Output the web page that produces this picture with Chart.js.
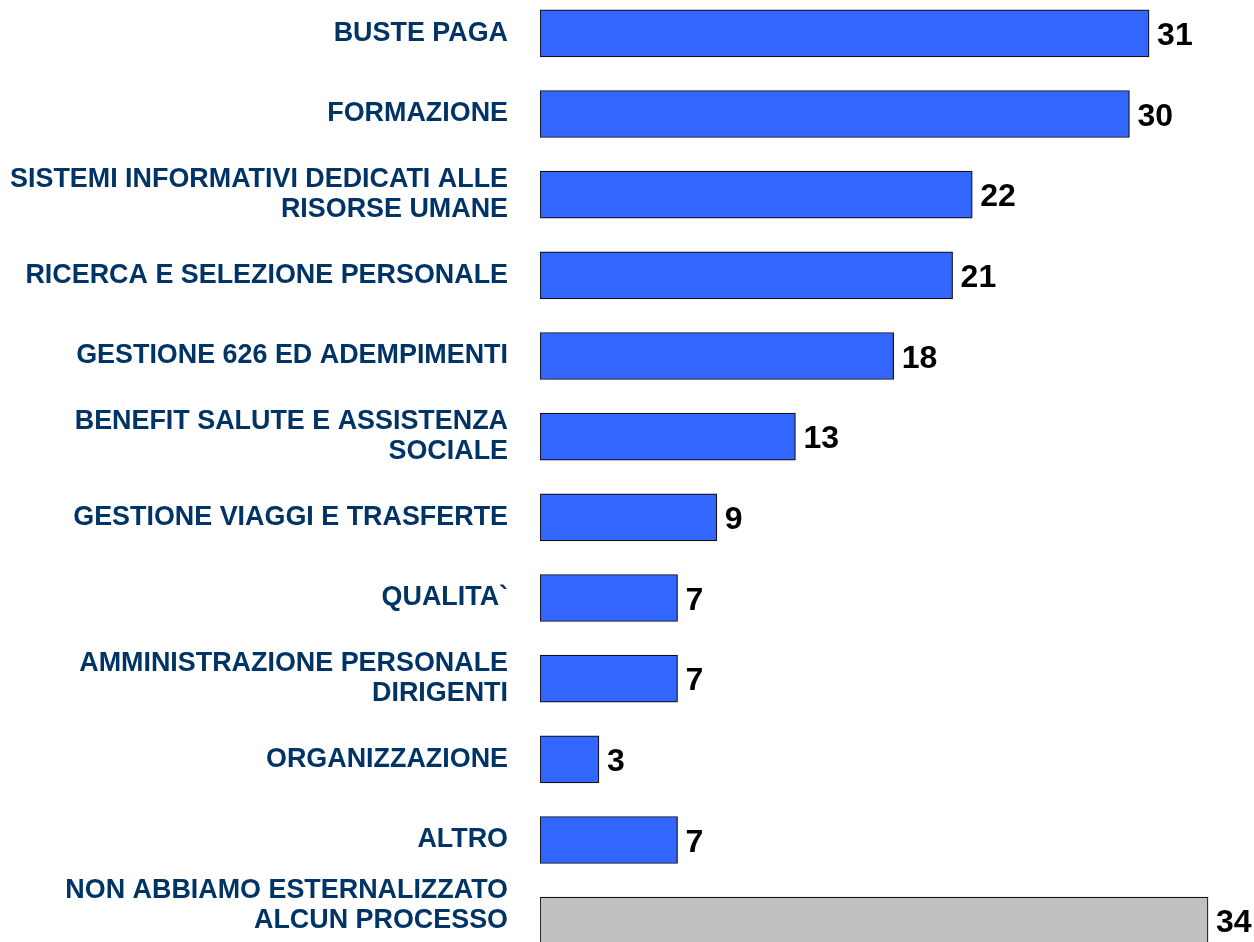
<!DOCTYPE html>
<html>
<head>
<meta charset="utf-8">
<script src="https://cdn.jsdelivr.net/npm/chart.js@4"></script>
<style>
  html, body { margin: 0; padding: 0; background: #fff; overflow: hidden; width: 1254px; height: 942px; }
  #wrap { position: absolute; left: 0; top: -7px; width: 1254px; height: 968px; }
</style>
</head>
<body>
<div id="wrap"><canvas id="c" width="1254" height="968"></canvas></div>
<script>
const categories = [
  "BUSTE PAGA",
  "FORMAZIONE",
  ["SISTEMI INFORMATIVI DEDICATI ALLE", "RISORSE UMANE"],
  "RICERCA E SELEZIONE PERSONALE",
  "GESTIONE 626 ED ADEMPIMENTI",
  ["BENEFIT SALUTE E ASSISTENZA", "SOCIALE"],
  "GESTIONE VIAGGI E TRASFERTE",
  "QUALITA`",
  ["AMMINISTRAZIONE PERSONALE", "DIRIGENTI"],
  "ORGANIZZAZIONE",
  "ALTRO",
  ["NON ABBIAMO ESTERNALIZZATO", "ALCUN PROCESSO", ""]
];
const values = [31, 30, 22, 21, 18, 13, 9, 7, 7, 3, 7, 34];
const barColors = ["#3366FF","#3366FF","#3366FF","#3366FF","#3366FF","#3366FF","#3366FF","#3366FF","#3366FF","#3366FF","#3366FF","#C0C0C0"];

const valueLabels = {
  id: 'valueLabels',
  afterDatasetsDraw(chart) {
    const ctx = chart.ctx;
    const meta = chart.getDatasetMeta(0);
    ctx.save();
    ctx.font = 'bold 32px "Liberation Sans", Arial, sans-serif';
    ctx.fillStyle = '#000';
    ctx.textAlign = 'left';
    ctx.textBaseline = 'middle';
    meta.data.forEach((bar, i) => {
      ctx.fillText(String(values[i]), bar.x + 8, bar.y + 3);
    });
    ctx.restore();
  }
};

new Chart(document.getElementById('c'), {
  type: 'bar',
  data: {
    labels: categories,
    datasets: [{
      data: values,
      backgroundColor: barColors,
      borderColor: '#111111',
      borderWidth: 1.2,
      borderSkipped: false,
      barThickness: 47
    }]
  },
  options: {
    indexAxis: 'y',
    responsive: false,
    animation: false,
    layout: { padding: 0 },
    plugins: { legend: { display: false }, tooltip: { enabled: false } },
    scales: {
      x: {
        display: false,
        min: 0,
        max: 36.34
      },
      y: {
        afterFit(scale) { scale.width = 540; scale.paddingTop = 0; scale.paddingBottom = 0; },
        grid: { display: false, drawTicks: false },
        border: { display: false },
        ticks: {
          autoSkip: false,
          color: '#003366',
          padding: 32,
          font: { family: '"Liberation Sans", Arial, sans-serif', size: 26.9, weight: 'bold', lineHeight: 1.12 }
        }
      }
    }
  },
  plugins: [valueLabels]
});
</script>
</body>
</html>
